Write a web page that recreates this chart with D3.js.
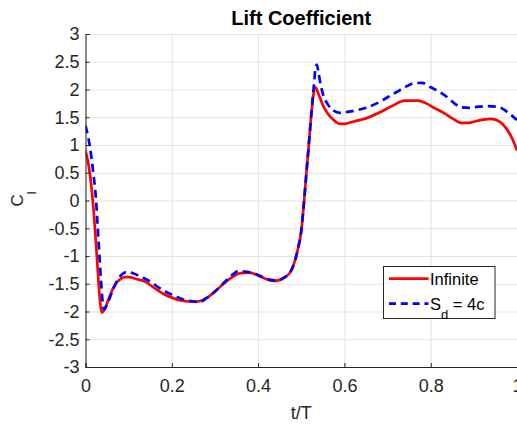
<!DOCTYPE html>
<html>
<head>
<meta charset="utf-8">
<script src="https://cdn.jsdelivr.net/npm/d3@7"></script>
<style>
  html, body { margin: 0; padding: 0; background: #fff; }
  svg { display: block; font-family: "Liberation Sans", Arial, Helvetica, sans-serif; }
</style>
</head>
<body>
<svg id="chart" width="517" height="424"></svg>
<script>
// Lift coefficient over one cycle, infinite span vs. S_d = 4c
const tInfinite = [0.000, 0.008, 0.015, 0.020, 0.025, 0.030, 0.034, 0.038, 0.043, 0.050,
  0.060, 0.070, 0.080, 0.090, 0.100, 0.120, 0.140, 0.160, 0.180, 0.200,
  0.220, 0.240, 0.260, 0.280, 0.300, 0.320, 0.340, 0.360, 0.380, 0.400,
  0.420, 0.435, 0.450, 0.462, 0.474, 0.484, 0.492, 0.500, 0.505, 0.512,
  0.518, 0.524, 0.529, 0.533, 0.540, 0.550, 0.560, 0.575, 0.590, 0.600,
  0.620, 0.650, 0.680, 0.710, 0.740, 0.770, 0.790, 0.810, 0.830, 0.850,
  0.870, 0.890, 0.910, 0.940, 0.960, 0.975, 0.990, 1.000];
const clInfinite = [0.90, 0.60, 0.15, -0.30, -0.85, -1.45, -1.85, -2.02, -1.98, -1.85,
  -1.65, -1.50, -1.42, -1.38, -1.38, -1.42, -1.47, -1.58, -1.68, -1.75,
  -1.80, -1.82, -1.82, -1.76, -1.64, -1.50, -1.38, -1.31, -1.30, -1.35,
  -1.42, -1.45, -1.43, -1.38, -1.30, -1.12, -0.88, -0.55, -0.15, 0.50,
  1.05, 1.60, 1.95, 2.04, 1.92, 1.72, 1.58, 1.45, 1.38, 1.38,
  1.42, 1.48, 1.58, 1.70, 1.80, 1.80, 1.75, 1.66, 1.58, 1.48,
  1.40, 1.40, 1.44, 1.47, 1.42, 1.30, 1.10, 0.90];

const tSd4c = [0.000, 0.010, 0.018, 0.024, 0.028, 0.032, 0.036, 0.040, 0.043, 0.047,
  0.055, 0.065, 0.075, 0.085, 0.095, 0.110, 0.130, 0.150, 0.170, 0.190,
  0.210, 0.230, 0.250, 0.265, 0.280, 0.300, 0.320, 0.340, 0.355, 0.370,
  0.390, 0.410, 0.430, 0.445, 0.462, 0.474, 0.484, 0.492, 0.500, 0.505,
  0.512, 0.518, 0.524, 0.529, 0.533, 0.536, 0.540, 0.546, 0.553, 0.560,
  0.575, 0.590, 0.610, 0.630, 0.650, 0.680, 0.700, 0.720, 0.740, 0.760,
  0.780, 0.800, 0.820, 0.840, 0.855, 0.870, 0.890, 0.910, 0.930, 0.950,
  0.965, 0.980, 1.000];
const clSd4c = [1.35, 0.98, 0.50, 0.05, -0.45, -0.95, -1.45, -1.85, -1.96, -1.92,
  -1.78, -1.58, -1.42, -1.33, -1.29, -1.31, -1.38, -1.46, -1.57, -1.66,
  -1.73, -1.79, -1.82, -1.83, -1.76, -1.64, -1.49, -1.34, -1.27, -1.28,
  -1.31, -1.38, -1.43, -1.44, -1.38, -1.30, -1.12, -0.88, -0.55, -0.15,
  0.50, 1.05, 1.62, 2.05, 2.38, 2.45, 2.30, 2.05, 1.85, 1.75,
  1.62, 1.58, 1.60, 1.63, 1.67, 1.77, 1.86, 1.95, 2.04, 2.11,
  2.12, 2.04, 1.96, 1.85, 1.75, 1.68, 1.67, 1.69, 1.70, 1.69,
  1.66, 1.58, 1.45];

const xTicks = [0, 0.2, 0.4, 0.6, 0.8, 1];
const yTicks = [-3, -2.5, -2, -1.5, -1, -0.5, 0, 0.5, 1, 1.5, 2, 2.5, 3];
const seriesNames = ["Infinite", "S_d = 4c"];
const seriesColors = ["#ff0000", "#0000ff"];

const svg = d3.select("#chart");
const plot = { left: 85.5, right: 517, top: 34, bottom: 367 };

const x = d3.scaleLinear().domain([0, 1]).range([plot.left, plot.right]);
const y = d3.scaleLinear().domain([-3, 3]).range([plot.bottom, plot.top]);

const axisColor = "#262626";
const gridColor = "#e3e3e3";

// grid
const grid = svg.append("g");
grid.append("g")
  .attr("transform", `translate(0,${plot.bottom})`)
  .call(d3.axisBottom(x).tickValues(xTicks).tickSize(-(plot.bottom - plot.top)).tickFormat(""))
  .call(g => g.select(".domain").remove())
  .call(g => g.selectAll("line").attr("stroke", gridColor));
grid.append("g")
  .attr("transform", `translate(${plot.left},0)`)
  .call(d3.axisLeft(y).tickValues(yTicks).tickSize(-(plot.right - plot.left)).tickFormat(""))
  .call(g => g.select(".domain").remove())
  .call(g => g.selectAll("line").attr("stroke", gridColor));

// clip for the curves
svg.append("defs").append("clipPath").attr("id", "plotClip")
  .append("rect")
  .attr("x", plot.left).attr("y", plot.top)
  .attr("width", plot.right - plot.left).attr("height", plot.bottom - plot.top);

const line = d3.line()
  .x(d => x(d[0]))
  .y(d => y(d[1]))
  .curve(d3.curveMonotoneX);

const curves = svg.append("g").attr("clip-path", "url(#plotClip)");
curves.append("path")
  .datum(d3.zip(tInfinite, clInfinite))
  .attr("d", line)
  .attr("fill", "none")
  .attr("stroke", seriesColors[0])
  .attr("stroke-width", 2.7)
  .attr("stroke-linejoin", "round");
curves.append("path")
  .datum(d3.zip(tSd4c, clSd4c))
  .attr("d", line)
  .attr("fill", "none")
  .attr("stroke", seriesColors[1])
  .attr("stroke-width", 2.7)
  .attr("stroke-dasharray", "8,5");

// axes
const fmt = d => String(d);
const xAxis = svg.append("g")
  .attr("transform", `translate(0,${plot.bottom})`)
  .call(d3.axisBottom(x).tickValues(xTicks).tickSize(-4).tickPadding(12).tickFormat(fmt));
const yAxis = svg.append("g")
  .attr("transform", `translate(${plot.left},0)`)
  .call(d3.axisLeft(y).tickValues(yTicks).tickSize(-4).tickPadding(6).tickFormat(fmt));
[xAxis, yAxis].forEach(a => {
  a.select(".domain").attr("stroke", axisColor).attr("stroke-width", 1);
  a.selectAll(".tick line").attr("stroke", axisColor);
  a.selectAll(".tick text").attr("fill", axisColor).style("font-size", "18px")
    .style("font-family", "'Liberation Sans', Arial, sans-serif");
});

// title and axis labels
svg.append("text")
  .attr("x", (plot.left + plot.right) / 2).attr("y", 25)
  .attr("text-anchor", "middle")
  .style("font-size", "20px").style("font-weight", "bold")
  .attr("fill", "#000")
  .text("Lift Coefficient");

svg.append("text")
  .attr("x", (plot.left + plot.right) / 2).attr("y", 419)
  .attr("text-anchor", "middle")
  .style("font-size", "18px")
  .attr("fill", axisColor)
  .text("t/T");

const yl = svg.append("text")
  .attr("transform", "translate(23,199) rotate(-90)")
  .attr("text-anchor", "middle")
  .attr("fill", axisColor)
  .style("font-size", "17px");
yl.append("tspan").text("C");
yl.append("tspan").attr("dy", 13).style("font-size", "13px").text("l");

// legend
const lg = svg.append("g");
lg.append("rect")
  .attr("x", 383.5).attr("y", 266.5).attr("width", 111.5).attr("height", 52)
  .attr("fill", "#fff").attr("stroke", axisColor).attr("stroke-width", 1);
const rows = [278.7, 303.7];
seriesNames.forEach((name, i) => {
  lg.append("line")
    .attr("x1", 389).attr("x2", 428.5)
    .attr("y1", rows[i]).attr("y2", rows[i])
    .attr("stroke", seriesColors[i]).attr("stroke-width", 2.7)
    .attr("stroke-dasharray", i === 1 ? "7,4.8" : null);
  const t = lg.append("text")
    .attr("x", 430).attr("y", rows[i] + 6)
    .attr("fill", "#000")
    .style("font-size", "16.5px");
  const parts = name.split("_");
  if (parts.length === 1) {
    t.text(name);
  } else {
    const rest = parts[1];
    t.append("tspan").text(parts[0]);
    t.append("tspan").attr("dy", 9).style("font-size", "13px").text(rest[0]);
    t.append("tspan").attr("dy", -9).text(rest.slice(1));
  }
});
</script>
</body>
</html>
